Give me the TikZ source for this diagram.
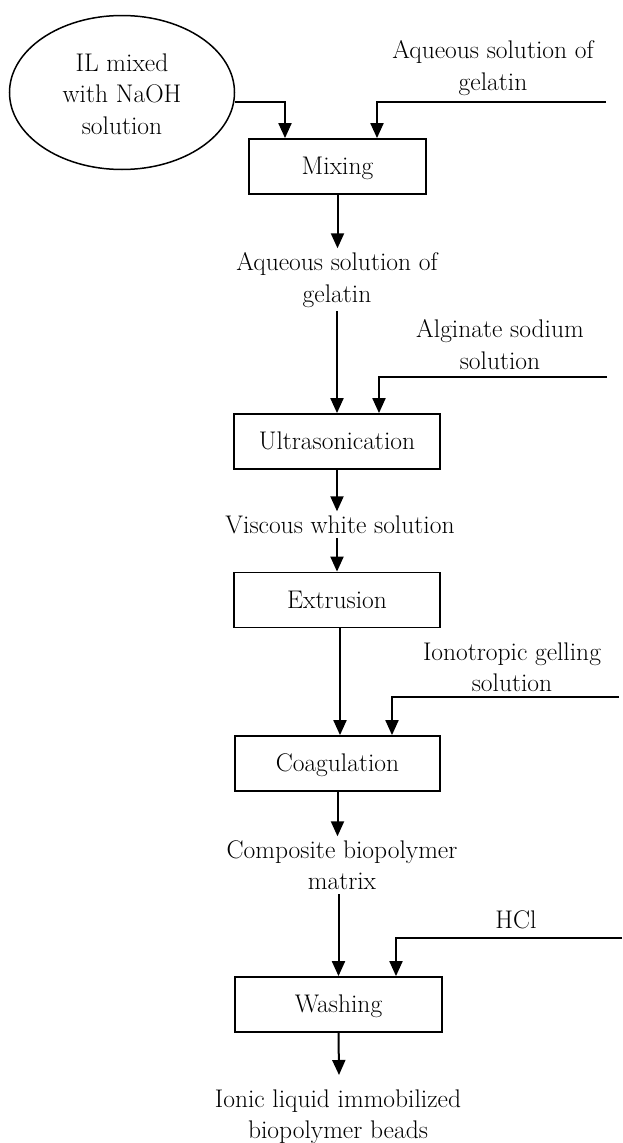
\documentclass[tikz,border=0pt]{standalone}
\usetikzlibrary{shapes.geometric,arrows.meta}
\begin{document}
\begin{tikzpicture}[x=1pt,y=-1pt,
  font=\fontsize{25.5}{31.5}\selectfont,
  box/.style={draw, line width=1.8pt, minimum height=55pt, inner sep=0pt, text height=17.7pt, text depth=1pt},
  flow/.style={line width=2pt, -{Triangle[length=15pt,width=13pt]}},
  feed/.style={line width=2pt, -{Triangle[length=15pt,width=13pt]}},
  lbl/.style={align=center, inner sep=4pt, anchor=north}]
\useasboundingbox (0,0) rectangle (623,1143);
% source ellipse
\node[draw, ellipse, line width=1.5pt, minimum width=225pt, minimum height=154pt, inner sep=0pt] (il) at (122,92.5) {};
\node[align=center, inner sep=0pt, anchor=north] (iltext) at (il.center |- 0,53.5) {IL mixed\\with NaOH\\solution};
% boxes
\node[box, minimum width=177pt] (mix) at (337.5,166.5) {Mixing};
\node[box, minimum width=206pt] (ultra) at (337,441.5) {Ultrasonication};
\node[box, minimum width=206pt] (extr) at (337,600) {Extrusion};
\node[box, minimum width=205pt] (coag) at (337.5,763.5) {Coagulation};
\node[box, minimum width=207pt] (wash) at (338.5,1004.5) {Washing};
% labels
\node[lbl] (aq1) at (493,36.3) {Aqueous solution of\\gelatin};
\node[lbl] (aq2) at (337,248.3) {Aqueous solution of\\gelatin};
\node[lbl] (alg) at (500,315.3) {Alginate sodium\\solution};
\node[lbl] (visc) at (340,511.3) {Viscous white solution};
\node[lbl] (iono) at (512,638.3) {Ionotropic gelling\\solution};
\node[lbl] (comp) at (342,836.3) {Composite biopolymer\\matrix};
\node[lbl] (hcl) at (516,906.3) {HCl};
\node[lbl] (ionic) at (338,1085.3) {Ionic liquid immobilized\\biopolymer beads};
% free ends
\coordinate (s1) at (606,102);
\coordinate (s2) at (607,377);
\coordinate (s3) at (619,697);
\coordinate (s4) at (622,938);
\coordinate (out) at (339,1075);
% connectors
\draw[flow] (il.east |- s1) -| ([xshift=-52.5pt]mix.north);
\draw[feed] (s1) -| ([xshift=39.5pt]mix.north);
\draw[flow] (mix.south) -- (mix.south |- aq2.north);
\draw[flow] (aq2.south) -- (ultra.north);
\draw[feed] (s2) -| ([xshift=42pt]ultra.north);
\draw[flow] (ultra.south) -- (ultra.south |- visc.north);
\draw[flow] (visc.south -| extr.north) -- (extr.north);
\draw[flow] ([xshift=3pt]extr.south) -- ([xshift=2.5pt]coag.north);
\draw[feed] (s3) -| ([xshift=54.5pt]coag.north);
\draw[flow] (coag.south) -- (coag.south |- comp.north);
\draw[flow] (comp.south -| wash.north) -- (wash.north);
\draw[feed] (s4) -| ([xshift=57.5pt]wash.north);
\draw[flow] (wash.south) -- (out);
\end{tikzpicture}
\end{document}
